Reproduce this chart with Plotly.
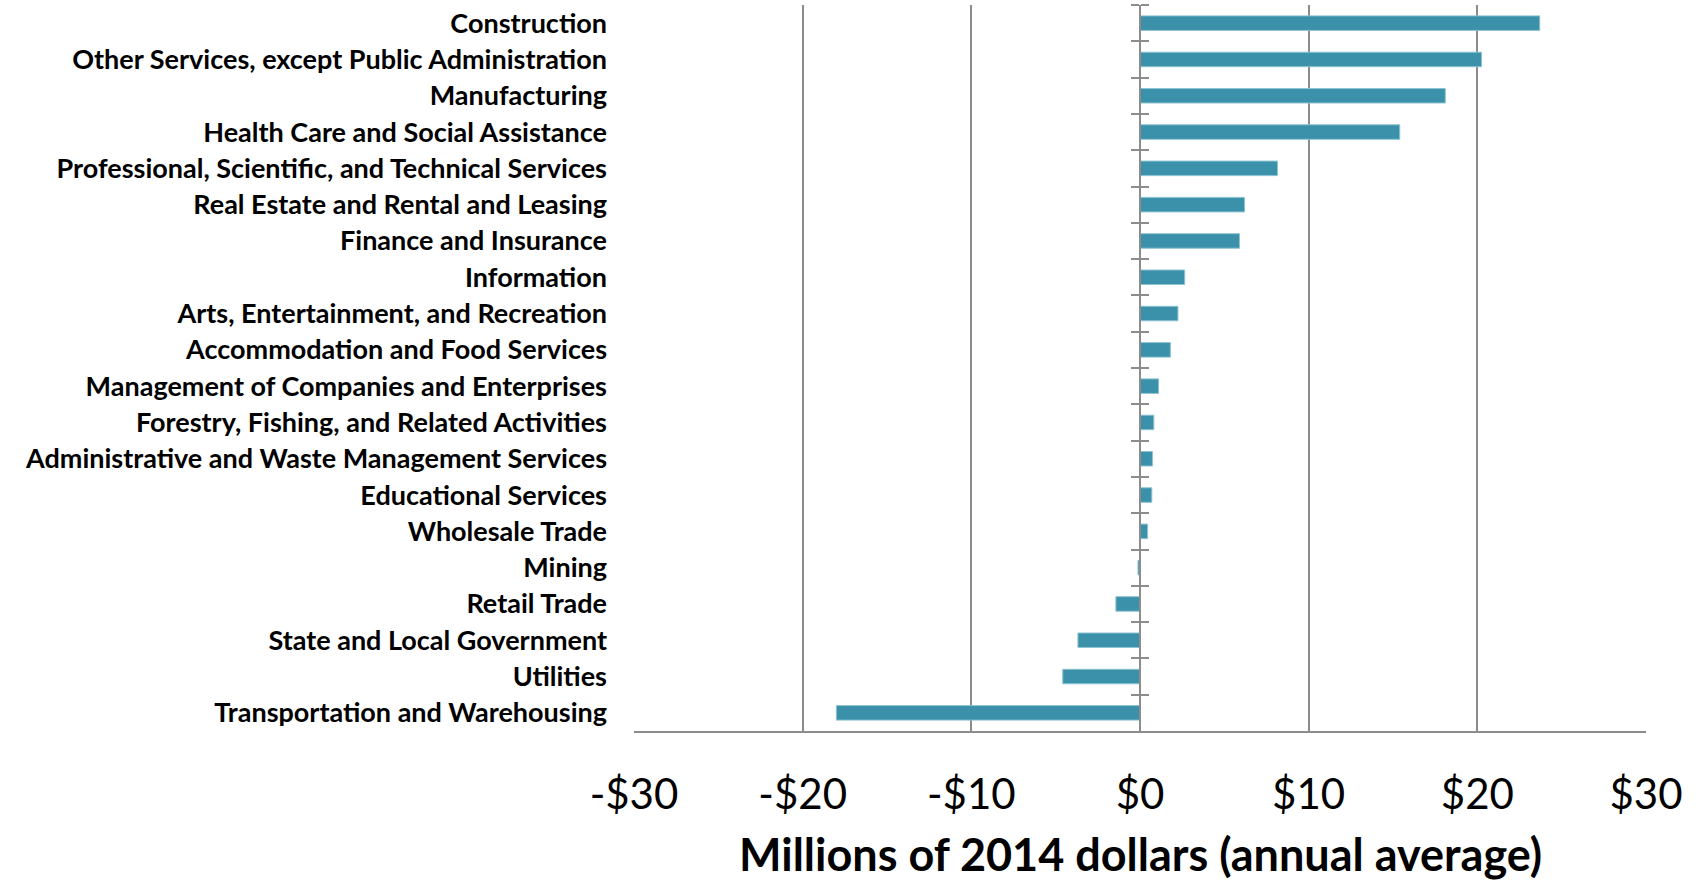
import plotly.graph_objects as go

categories = [
    "Construction",
    "Other Services, except Public Administration",
    "Manufacturing",
    "Health Care and Social Assistance",
    "Professional, Scientific, and Technical Services",
    "Real Estate and Rental and Leasing",
    "Finance and Insurance",
    "Information",
    "Arts, Entertainment, and Recreation",
    "Accommodation and Food Services",
    "Management of Companies and Enterprises",
    "Forestry, Fishing, and Related Activities",
    "Administrative and Waste Management Services",
    "Educational Services",
    "Wholesale Trade",
    "Mining",
    "Retail Trade",
    "State and Local Government",
    "Utilities",
    "Transportation and Warehousing",
]
values = [23.7, 20.25, 18.1, 15.4, 8.15, 6.2, 5.9, 2.65, 2.25, 1.8, 1.1, 0.82,
          0.74, 0.7, 0.45, -0.12, -1.43, -3.68, -4.58, -18.0]

tick_vals = [-30, -20, -10, 0, 10, 20, 30]
tick_text = ["-$30", "-$20", "-$10", "$0", "$10", "$20", "$30"]
x_title = "Millions of 2014 dollars (annual average)"

BAR = "#3A91A9"
GRID = "#8C8C8C"
FONT = "Lato"

n = len(categories)

fig = go.Figure()
fig.add_trace(go.Bar(
    x=values, y=categories, orientation="h",
    marker=dict(color=BAR, line=dict(color="#8EC3D2", width=1)),
    showlegend=False, hoverinfo="x+y",
))
# invisible traces to carry the crossing tick marks on the zero axis
for ax in ("y2", "y3"):
    fig.add_trace(go.Scatter(
        x=values, y=categories, yaxis=ax, mode="markers",
        marker=dict(opacity=0), showlegend=False, hoverinfo="skip",
    ))

fig.update_layout(
    width=1698, height=881,
    margin=dict(l=634, r=52, t=5, b=150),
    paper_bgcolor="white", plot_bgcolor="white",
    bargap=0.6,
    font=dict(family=FONT, color="black"),
    xaxis=dict(
        range=[-30, 30], tickvals=tick_vals, ticktext=tick_text,
        showgrid=True, gridcolor=GRID, gridwidth=1.5,
        zeroline=False, showline=True, linecolor=GRID, linewidth=2,
        ticks="", tickfont=dict(family=FONT, size=42),
        ticklabelstandoff=26,
        domain=[0, 1], fixedrange=True, automargin=False,
    ),
    yaxis=dict(
        categoryorder="array", categoryarray=categories,
        range=[n - 0.5, -0.5], autorange=False,
        showgrid=False, zeroline=False, showline=False, ticks="",
        tickfont=dict(family=FONT, size=27, color="black", weight="bold"),
        ticklabelstandoff=26, fixedrange=True, automargin=False,
    ),
    yaxis2=dict(
        matches="y", overlaying="y", anchor="free", position=0.5, side="left",
        showticklabels=False, showgrid=False, zeroline=False,
        showline=True, linecolor=GRID, linewidth=2,
        ticks="outside", tickson="boundaries", ticklen=8, tickwidth=2, tickcolor=GRID,
        automargin=False,
    ),
    yaxis3=dict(
        matches="y", overlaying="y", anchor="free", position=0.5, side="right",
        showticklabels=False, showgrid=False, zeroline=False, showline=False,
        ticks="outside", tickson="boundaries", ticklen=8, tickwidth=2, tickcolor=GRID,
        automargin=False,
    ),
    annotations=[dict(
        text="<b>" + x_title + "</b>", xref="paper", yref="paper",
        x=0.5, y=-0.169, xanchor="center", yanchor="middle", showarrow=False,
        font=dict(family=FONT, size=45, color="black"),
    )],
)

fig.write_html("out.html", config={"displayModeBar": False},
               post_script="document.body.style.margin='0';")
